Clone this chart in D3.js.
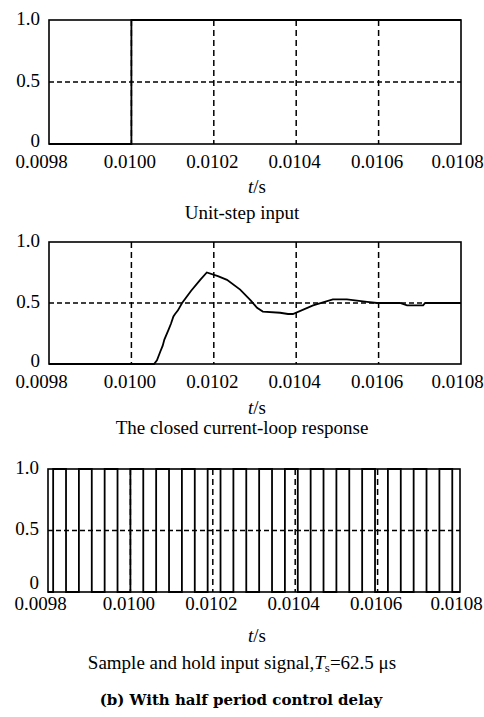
<!DOCTYPE html>
<html>
<head>
<meta charset="utf-8">
<script src="https://cdn.jsdelivr.net/npm/d3@7/dist/d3.min.js"></script>
<style>
  body { margin: 0; background: #fff; }
  svg text { font-family: "Liberation Serif", "Times New Roman", serif; fill: #000; }
</style>
</head>
<body>
<div id="chart"></div>
<script>
// axes (time in seconds)
const timeTicks = [0.0098, 0.0100, 0.0102, 0.0104, 0.0106, 0.0108];
const valueTicks = [0, 0.5, 1.0];
const gridTimes = [0.0100, 0.0102, 0.0104, 0.0106];
const gridValues = [0.5];

// unit-step input
const stepTimes = [0.0098, 0.0100, 0.0108];
const stepLevels = [0, 1, 1];

// closed current-loop response
const respTimes = [0.0098, 0.010055, 0.010062, 0.010070, 0.010076, 0.010080, 0.010090, 0.010096,
  0.010102, 0.010106, 0.010113, 0.010123, 0.010145, 0.010167, 0.010183, 0.010210, 0.010232,
  0.010264, 0.010290, 0.010305, 0.010319, 0.010361, 0.010380, 0.010392, 0.010441,
  0.010489, 0.010523, 0.010572, 0.010596, 0.010652, 0.010669, 0.010708, 0.010713, 0.010800];
const respValues = [0, 0, 0.03, 0.10, 0.15, 0.20, 0.28, 0.33,
  0.39, 0.41, 0.44, 0.50, 0.60, 0.69, 0.75, 0.72, 0.69,
  0.61, 0.52, 0.46, 0.43, 0.42, 0.41, 0.41, 0.48,
  0.53, 0.53, 0.51, 0.50, 0.50, 0.48, 0.48, 0.50, 0.50];

// sample and hold input, edges every Ts/2 = 31.25 us
const holdTimes = [0.0098, 0.0098125, 0.00984375, 0.009875, 0.00990625, 0.0099375,
  0.00996875, 0.0100, 0.01003125, 0.0100625, 0.01009375, 0.010125, 0.01015625,
  0.0101875, 0.01021875, 0.01025, 0.01028125, 0.0103125, 0.01034375, 0.010375,
  0.01040625, 0.0104375, 0.01046875, 0.0105, 0.01053125, 0.0105625, 0.01059375,
  0.010625, 0.01065625, 0.0106875, 0.01071875, 0.01075, 0.01078125, 0.0108];
const holdLevels = [0, 1, 0, 1, 0, 1, 0, 1, 0, 1, 0, 1, 0, 1, 0, 1, 0,
  1, 0, 1, 0, 1, 0, 1, 0, 1, 0, 1, 0, 1, 0, 1, 0, 0];

const svg = d3.select("#chart").append("svg")
  .attr("width", 484)
  .attr("height", 717);

class TimePanel {
  constructor(_config, _times, _values, _curve) {
    this.config = {
      left: _config.left,
      top: _config.top,
      width: _config.width,
      height: _config.height,
      tickPad: _config.tickPad,
      zeroLift: _config.zeroLift,
      unitY: _config.unitY,
      caption: _config.caption,
      captionY: _config.captionY,
      fontSize: 19
    };
    this.data = _times.map((t, i) => ({ t: t, v: _values[i] }));
    this.curve = _curve;
    this.initVis();
  }

  initVis() {
    let vis = this;
    const c = vis.config;

    vis.xScale = d3.scaleLinear().domain([0.0098, 0.0108]).range([0, c.width]);
    vis.yScale = d3.scaleLinear().domain([0, 1]).range([c.height, 0]);

    vis.g = svg.append("g").attr("transform", `translate(${c.left},${c.top})`);

    // dashed grid
    vis.g.selectAll(".vgrid")
      .data(gridTimes)
      .join("line")
      .attr("class", "vgrid")
      .attr("x1", d => vis.xScale(d))
      .attr("x2", d => vis.xScale(d))
      .attr("y1", 0)
      .attr("y2", c.height)
      .attr("stroke", "#000")
      .attr("stroke-width", 1.5)
      .attr("stroke-dasharray", "6,4");

    vis.g.selectAll(".hgrid")
      .data(gridValues)
      .join("line")
      .attr("class", "hgrid")
      .attr("x1", 0)
      .attr("x2", c.width)
      .attr("y1", d => vis.yScale(d))
      .attr("y2", d => vis.yScale(d))
      .attr("stroke", "#000")
      .attr("stroke-width", 1.5)
      .attr("stroke-dasharray", "5,3");

    // signal
    const line = d3.line()
      .x(d => vis.xScale(d.t))
      .y(d => vis.yScale(d.v))
      .curve(vis.curve);

    vis.g.append("path")
      .datum(vis.data)
      .attr("d", line)
      .attr("fill", "none")
      .attr("stroke", "#000")
      .attr("stroke-width", 1.8);

    // frame
    vis.g.append("rect")
      .attr("width", c.width)
      .attr("height", c.height)
      .attr("fill", "none")
      .attr("stroke", "#000")
      .attr("stroke-width", 1.6);

    // axes
    const xAxis = d3.axisBottom(vis.xScale)
      .tickValues(timeTicks)
      .tickSize(0)
      .tickPadding(c.tickPad)
      .tickFormat(d3.format(".4f"));
    const yAxis = d3.axisLeft(vis.yScale)
      .tickValues(valueTicks)
      .tickSize(0)
      .tickPadding(9)
      .tickFormat(d => (d === 0 ? "0" : d3.format(".1f")(d)));

    vis.g.append("g")
      .attr("transform", `translate(0,${c.height})`)
      .call(xAxis)
      .call(g => g.select(".domain").remove())
      .selectAll("text")
      .attr("font-size", c.fontSize)
      .attr("font-family", null)
      .attr("dx", d => (d === 0.0098 ? -8 : d === 0.0108 ? -4 : -2));

    vis.g.append("g")
      .call(yAxis)
      .call(g => g.select(".domain").remove())
      .selectAll("text")
      .attr("font-size", c.fontSize)
      .attr("font-family", null)
      .attr("y", d => (d === 0 ? -c.zeroLift : -2));

    // unit label t/s
    const unit = svg.append("text")
      .attr("x", 257)
      .attr("y", c.unitY)
      .attr("text-anchor", "middle")
      .attr("font-size", c.fontSize);
    unit.append("tspan").attr("font-style", "italic").text("t");
    unit.append("tspan").text("/s");

    // caption
    const cap = svg.append("text")
      .attr("x", 242)
      .attr("y", c.captionY)
      .attr("text-anchor", "middle")
      .attr("font-size", c.fontSize);
    c.caption.forEach(part => {
      const ts = cap.append("tspan").text(part.text);
      if (part.italic) ts.attr("font-style", "italic");
      if (part.sub) ts.attr("font-size", 13).attr("dy", 3);
      if (part.back) ts.attr("dy", -3);
    });
  }
}

new TimePanel(
  { left: 49, top: 20, width: 412, height: 124, tickPad: 11, zeroLift: 4, unitY: 193, captionY: 219,
    caption: [{ text: "Unit-step input" }] },
  stepTimes, stepLevels, d3.curveStepAfter
);

new TimePanel(
  { left: 49, top: 242, width: 412, height: 122, tickPad: 11, zeroLift: 4, unitY: 414, captionY: 434,
    caption: [{ text: "The closed current-loop response" }] },
  respTimes, respValues, d3.curveLinear
);

new TimePanel(
  { left: 48, top: 469, width: 412, height: 123, tickPad: 5, zeroLift: 10, unitY: 642, captionY: 669,
    caption: [
      { text: "Sample and hold input signal," },
      { text: "T", italic: true },
      { text: "s", sub: true },
      { text: "=62.5 \u03bcs", back: true }
    ] },
  holdTimes, holdLevels, d3.curveStepAfter
);

svg.append("text")
  .attr("x", 241)
  .attr("y", 705)
  .attr("text-anchor", "middle")
  .style("font-family", "'DejaVu Serif', serif")
  .style("font-size", "15px")
  .style("font-weight", "bold")
  .text("(b) With half period control delay");
</script>
</body>
</html>
